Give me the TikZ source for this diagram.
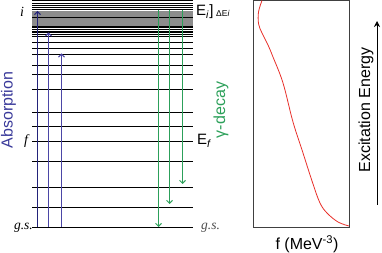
\documentclass[tikz,border=0pt]{standalone}
\usepackage{fontspec}
\setmainfont{Liberation Serif}
\setsansfont{Liberation Sans}
\usetikzlibrary{arrows.meta}
\definecolor{absdark}{HTML}{23237A}
\definecolor{abslight}{HTML}{4B46A6}
\definecolor{abstext}{HTML}{3A3A9A}
\definecolor{gam}{HTML}{2CA05A}
\definecolor{curvecol}{HTML}{E8302A}
\begin{document}
\begin{tikzpicture}[x=1pt,y=-1pt,
  level/.style={line width=0.8pt, black},
  dense/.style={line width=0.35pt, black!45},
  absarrow/.style={line width=1pt, -{Straight Barb[length=3pt,width=6pt]}},
  gamarrow/.style={line width=1pt, gam, -{Straight Barb[length=3pt,width=6pt]}},
  sflbl/.style={inner sep=0pt, font=\sffamily\fontsize{15}{15}\selectfont},
  itlbl/.style={inner sep=0pt, font=\rmfamily\itshape\fontsize{13.5}{13.5}\selectfont},
  biglbl/.style={inner sep=0pt, rotate=90, font=\sffamily\fontsize{16}{16}\selectfont}
]
\useasboundingbox (0,0) rectangle (382,253);
% dense levels
\foreach \y in {11,12,...,25} \draw[dense] (32.3,\y) -- (193.3,\y);
% discrete levels
\foreach \y in {0.7,3,5.3,7.7,9.3,17.3,26,27.6,29.3,31,32.7,34.3,36.2,42.7,48.3,54,65.7,74,89,112.5,126,141.5,161,187,207,227}
  \draw[level] (32.3,\y) -- (193.3,\y);
% absorption arrows
\coordinate (a1s) at (37.5,227); \coordinate (a1e) at (37.5,11);
\coordinate (a2s) at (48.5,227); \coordinate (a2e) at (48.5,32.5);
\coordinate (a3s) at (61.5,227); \coordinate (a3e) at (61.5,53.5);
\draw[absarrow, absdark] (a1s) -- (a1e);
\draw[absarrow, abslight] (a2s) -- (a2e);
\draw[absarrow, abslight] (a3s) -- (a3e);
% gamma arrows
\coordinate (g1s) at (158.5,10); \coordinate (g1e) at (158.5,227);
\coordinate (g2s) at (169.5,10); \coordinate (g2e) at (169.5,204);
\coordinate (g3s) at (182.5,10); \coordinate (g3e) at (182.5,184);
\draw[gamarrow] (g1s) -- (g1e);
\draw[gamarrow] (g2s) -- (g2e);
\draw[gamarrow] (g3s) -- (g3e);
% labels
\node[itlbl, font=\rmfamily\itshape\fontsize{14}{14}\selectfont] (ilbl) at (22,12) {i};
\node[itlbl, font=\rmfamily\itshape\fontsize{14}{14}\selectfont] (flbl) at (26,141) {f};
\node[itlbl, anchor=east] (gsl) at (33,228) {g.s.};
\node[itlbl, anchor=west, text=black!70] (gsr) at (201,228) {g.s.};
\node[sflbl, anchor=west] (Ei) at (196,12) {E\textsubscript{\textit{i}}]};
\node[inner sep=0pt, anchor=west, font=\sffamily\fontsize{8.5}{8.5}\selectfont] (dEi) at (216,13) {ΔE\textit{i}};
\node[sflbl, anchor=west] (Ef) at (197,141) {E\textsubscript{\textit{f}}};
\node[biglbl, text=abstext] (abs) at (8.5,110) {Absorption};
\node[biglbl, text=gam] (gd) at (221,110) {γ-decay};
% right panel
\node[draw=black!75, line width=0.8pt, minimum width=96pt, minimum height=226.5pt, inner sep=0pt, anchor=north west] (box) at (253,0.5) {};
\draw[curvecol, line width=0.8pt] plot[smooth, tension=0.6] coordinates {(262,0.5) (258.5,12) (258.6,24) (262,33) (268,45) (273,57) (283,83) (293,122) (303,153) (313,184) (320,203) (327,213) (338,222) (349,226)};
\node[sflbl, font=\sffamily\fontsize{16}{16}\selectfont] (fx) at (307,244) {f (MeV\textsuperscript{-3})};
\node[biglbl] (exc) at (366,110) {Excitation Energy};
\coordinate (eb) at (377,205); \coordinate (et) at (377,21);
\draw[line width=0.8pt, -{Stealth[length=6pt,width=6pt]}] (eb) -- (et);
\end{tikzpicture}
\end{document}
